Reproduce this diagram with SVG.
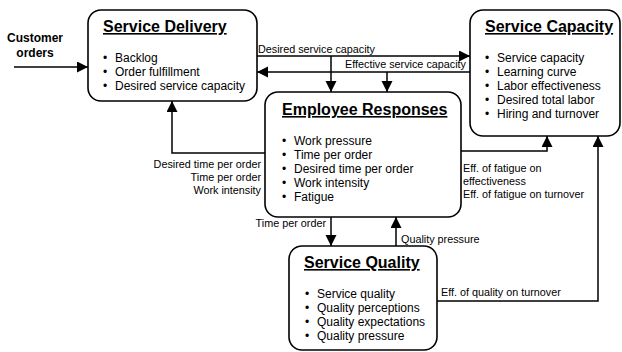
<svg xmlns="http://www.w3.org/2000/svg" width="622" height="352" viewBox="0 0 622 352">
<style>
.box{fill:#fff;stroke:#000;stroke-width:1.6}
.title{font-family:"Liberation Sans",Arial,sans-serif;font-size:16px;font-weight:bold;text-decoration:underline}
.item{font-family:"Liberation Sans",Arial,sans-serif;font-size:12px}
.lbl{font-family:"Liberation Sans",Arial,sans-serif;font-size:10.8px}
.in{font-family:"Liberation Sans",Arial,sans-serif;font-size:12px;font-weight:bold}
.con{fill:none;stroke:#000;stroke-width:1.5;marker-end:url(#ah)}
</style>
<defs>
<marker id="ah" markerUnits="userSpaceOnUse" markerWidth="12" markerHeight="12" refX="11" refY="5.5" orient="auto">
<path d="M0,0 L11,5.5 L0,11 z" fill="#000"/>
</marker>
</defs>
<rect width="622" height="352" fill="#fff"/>
<g id="connectors">
<path class="con" d="M14,67 H88"/>
<path class="con" d="M257,56 H470"/>
<path class="con" d="M470,72 H257"/>
<path class="con" d="M331,56 V92"/>
<path class="con" d="M387,72 V92"/>
<path class="con" d="M265,153 H172 V101"/>
<path class="con" d="M331,217 V246"/>
<path class="con" d="M396,246 V217"/>
<path class="con" d="M461,151 H547 V136"/>
<path class="con" d="M437,301 H598 V136"/>
<text class="lbl" x="258" y="53">Desired service capacity</text>
<text class="lbl" x="466" y="68" text-anchor="end">Effective service capacity</text>
<text class="lbl" x="261" y="168" text-anchor="end">Desired time per order</text>
<text class="lbl" x="261" y="181" text-anchor="end">Time per order</text>
<text class="lbl" x="261" y="194" text-anchor="end">Work intensity</text>
<text class="lbl" x="326" y="227" text-anchor="end">Time per order</text>
<text class="lbl" x="401" y="243">Quality pressure</text>
<text class="lbl" x="463" y="172">Eff. of fatigue on</text>
<text class="lbl" x="463" y="185">effectiveness</text>
<text class="lbl" x="463" y="198">Eff. of fatigue on turnover</text>
<text class="lbl" x="441" y="296">Eff. of quality on turnover</text>
</g>
<g id="customer-orders">
<text class="in" x="35" y="42" text-anchor="middle">Customer</text>
<text class="in" x="35" y="57" text-anchor="middle">orders</text>
</g>
<g id="service-delivery">
<rect class="box" x="88" y="10" width="169" height="91" rx="13"/>
<text class="title" x="103" y="32">Service Delivery</text>
<text class="item" x="103" y="62">•</text><text class="item" x="115" y="62">Backlog</text>
<text class="item" x="103" y="76">•</text><text class="item" x="115" y="76">Order fulfillment</text>
<text class="item" x="103" y="90">•</text><text class="item" x="115" y="90">Desired service capacity</text>
</g>
<g id="service-capacity">
<rect class="box" x="470" y="10" width="150" height="126" rx="13"/>
<text class="title" x="485" y="32">Service Capacity</text>
<text class="item" x="485" y="62">•</text><text class="item" x="497" y="62">Service capacity</text>
<text class="item" x="485" y="76">•</text><text class="item" x="497" y="76">Learning curve</text>
<text class="item" x="485" y="90">•</text><text class="item" x="497" y="90">Labor effectiveness</text>
<text class="item" x="485" y="104">•</text><text class="item" x="497" y="104">Desired total labor</text>
<text class="item" x="485" y="118">•</text><text class="item" x="497" y="118">Hiring and turnover</text>
</g>
<g id="employee-responses">
<rect class="box" x="265" y="92" width="196" height="125" rx="13"/>
<text class="title" x="282" y="115">Employee Responses</text>
<text class="item" x="282" y="145">•</text><text class="item" x="294" y="145">Work pressure</text>
<text class="item" x="282" y="159">•</text><text class="item" x="294" y="159">Time per order</text>
<text class="item" x="282" y="173">•</text><text class="item" x="294" y="173">Desired time per order</text>
<text class="item" x="282" y="187">•</text><text class="item" x="294" y="187">Work intensity</text>
<text class="item" x="282" y="201">•</text><text class="item" x="294" y="201">Fatigue</text>
</g>
<g id="service-quality">
<rect class="box" x="289" y="246" width="148" height="104" rx="13"/>
<text class="title" x="304" y="268">Service Quality</text>
<text class="item" x="305" y="298">•</text><text class="item" x="317" y="298">Service quality</text>
<text class="item" x="305" y="312">•</text><text class="item" x="317" y="312">Quality perceptions</text>
<text class="item" x="305" y="326">•</text><text class="item" x="317" y="326">Quality expectations</text>
<text class="item" x="305" y="340">•</text><text class="item" x="317" y="340">Quality pressure</text>
</g>
</svg>
